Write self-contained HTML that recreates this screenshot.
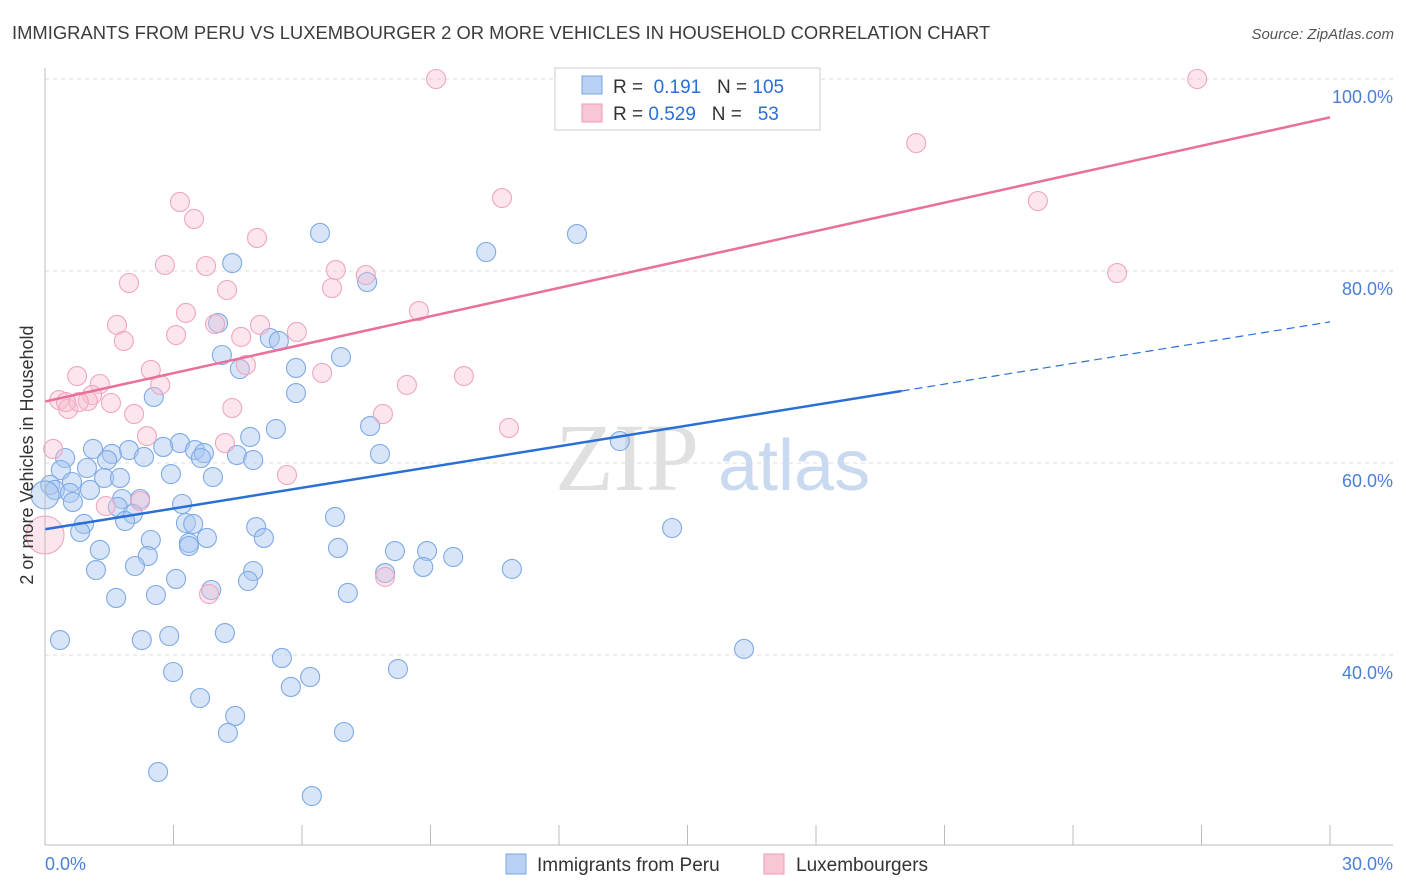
<!DOCTYPE html>
<html><head><meta charset="utf-8"><style>
body{margin:0;background:#fff;font-family:"Liberation Sans",sans-serif;}
</style></head><body>
<svg id="c" width="1406" height="892" xmlns="http://www.w3.org/2000/svg" style="display:block">
<text x="12" y="39" font-size="18.4" fill="#3c3c3c">IMMIGRANTS FROM PERU VS LUXEMBOURGER 2 OR MORE VEHICLES IN HOUSEHOLD CORRELATION CHART</text>
<text x="1394" y="39" font-size="15" fill="#555" font-style="italic" text-anchor="end">Source: ZipAtlas.com</text>
<g id="grid"></g>
<g><text x="555" y="490" font-family="Liberation Serif" font-size="96" fill="#e0e0e0">ZIP</text><text x="718" y="490" font-size="72" fill="#c9daf0">atlas</text></g>
<g id="pts"></g>
<g id="lines"></g>
<line x1="45" y1="68" x2="45" y2="845" stroke="#bbb"/>
<line x1="45" y1="845" x2="1393" y2="845" stroke="#bbb"/>
<g id="ticks"></g>
<text x="45" y="870" font-size="18" fill="#4a7fd6">0.0%</text>
<text x="1393" y="870" font-size="18" fill="#4a7fd6" text-anchor="end">30.0%</text>
<text transform="translate(33,455) rotate(-90)" font-size="18" fill="#333" text-anchor="middle">2 or more Vehicles in Household</text>
<g>
<rect x="555" y="68" width="265" height="62" fill="#fff" stroke="#ccc"/>
<rect x="582" y="76" width="20" height="18" fill="#b8d0f3" stroke="#7aa6e3"/>
<rect x="582" y="104" width="20" height="18" fill="#f9c6d5" stroke="#ee9ab5"/>
<text x="613" y="93" font-size="19" fill="#333">R = <tspan fill="#2a6fd6">&#160;0.191</tspan>&#160;&#160;&#160;N = <tspan fill="#2a6fd6">105</tspan></text>
<text x="613" y="120" font-size="19" fill="#333">R = <tspan fill="#2a6fd6">0.529</tspan>&#160;&#160;&#160;N = <tspan fill="#2a6fd6">&#160;&#160;53</tspan></text>
</g>
<g>
<rect x="506" y="854" width="20" height="20" fill="#b8d0f3" stroke="#7aa6e3"/>
<text x="537" y="871" font-size="19" fill="#333">Immigrants from Peru</text>
<rect x="764" y="854" width="20" height="20" fill="#f9c6d5" stroke="#ee9ab5"/>
<text x="796" y="871" font-size="19" fill="#333">Luxembourgers</text>
</g>
</svg>
<script>
const yTicks=[40,60,80,100];
const xTickCount=10;
const blueX=[12.33,6.42,12.42,10.30,4.37,7.52,4.04,5.25,5.46,4.13,6.91,4.55,5.86,5.86,2.54,5.39,7.59,13.42,4.79,3.15,2.76,3.50,1.12,1.96,1.56,2.31,3.71,3.64,4.48,4.86,7.82,0.47,0.37,0.98,1.45,1.38,1.75,2.94,3.92,0.63,0.12,0.23,0.58,1.05,0,0.65,1.80,2.22,3.20,1.70,2.05,1.87,3.29,3.46,0.91,0.82,4.93,6.77,14.64,2.47,3.78,5.11,3.36,3.36,1.28,2.40,6.84,8.17,8.92,9.53,2.10,1.19,4.86,7.94,8.83,10.90,3.06,4.74,3.88,2.59,1.66,7.07,0.35,2.26,2.90,4.20,16.32,5.53,2.99,8.24,6.19,5.74,3.62,4.44,4.27,6.98,2.64,6.23];
const blueY=[100,83.96,83.85,81.98,80.83,78.85,74.58,73.02,72.71,71.25,71.04,69.79,69.90,67.29,66.88,63.54,63.85,62.29,62.71,62.08,61.67,61.35,61.46,61.35,60.94,60.63,61.04,60.52,60.83,60.31,60.94,60.52,59.27,59.48,60.31,58.44,58.44,58.85,58.54,58.02,57.71,57.19,56.88,57.19,56.67,55.94,56.25,56.25,55.73,55.42,54.69,53.96,53.75,53.65,53.65,52.81,53.33,54.38,53.23,51.98,52.19,52.19,51.67,51.35,50.94,50.31,51.15,50.83,50.83,50.21,49.27,48.85,48.75,48.54,49.17,48.96,47.92,47.71,46.77,46.25,45.94,46.46,41.56,41.56,41.98,42.29,40.63,39.69,38.23,38.54,37.71,36.67,35.52,33.65,31.88,31.98,27.81,25.31];
const pinkX=[9.13,26.90,20.34,10.67,3.15,3.48,23.18,4.95,2.80,3.76,1.96,6.79,7.49,4.25,6.70,25.03,8.73,3.29,1.68,5.02,3.97,3.06,5.88,1.84,4.58,2.47,4.69,6.47,9.78,0.75,8.45,2.69,1.28,1.10,0.33,1.00,0.54,1.54,4.37,2.08,7.89,10.83,2.38,4.20,0.19,5.65,1.42,2.22,7.94,3.83,0,0.79,0.49];
const pinkY=[100,100,93.33,87.60,87.19,85.42,87.29,83.44,80.63,80.52,78.75,80.10,79.58,78.02,78.23,79.79,75.83,75.63,74.38,74.38,74.48,73.33,73.65,72.71,73.13,69.69,70.21,69.38,69.06,69.06,68.13,68.13,68.23,67.08,66.56,66.46,65.63,66.25,65.73,65.10,65.10,63.65,62.81,62.08,61.46,58.75,55.52,56.04,48.13,46.35,52.5,66.35,66.35];
const blueTrend=[53.1,74.7];
const pinkTrend=[66.4,96.0];
const blueSolidEnd=20;
const NS='http://www.w3.org/2000/svg';
const sx=v=>45+v/30*1285;
const sy=v=>79+(100-v)*9.6;
function mk(tag,attrs,parent){const e=document.createElementNS(NS,tag);for(const k in attrs)e.setAttribute(k,attrs[k]);parent.appendChild(e);return e;}
const grid=document.getElementById('grid');
yTicks.forEach(t=>{
 const l=mk('line',{x1:45,x2:1393,y1:sy(t),y2:sy(t),stroke:'#ddd','stroke-dasharray':'4,4'},grid);
 
 
 const tx=mk('text',{x:1393,y:sy(t)+24,'font-size':18,fill:'#4a7fd6','text-anchor':'end'},grid);
 tx.textContent=t.toFixed(1)+'%';
 
 
});
const ticks=document.getElementById('ticks');
for(let i=1;i<=xTickCount;i++){
 const v=i*30/xTickCount;
 const l=mk('line',{x1:sx(v),x2:sx(v),y1:825,y2:845,stroke:'#bbb'},ticks);
 
 
}
const pts=document.getElementById('pts');
blueX.forEach((x,i)=>{
 const big=(x===0);
 const c=mk('circle',{cx:sx(x),cy:sy(blueY[i]),r:big?14:9.5,fill:'rgba(168,198,240,0.45)',stroke:'#7eaae6','stroke-width':1.1},pts);
 
 
});
pinkX.forEach((x,i)=>{
 const big=(x===0);
 const c=mk('circle',{cx:sx(x),cy:sy(pinkY[i]),r:big?19:9.5,fill:'rgba(248,190,208,0.4)',stroke:'#f0a6bf','stroke-width':1.1},pts);
 
 
});
const lines=document.getElementById('lines');
const by=x=>blueTrend[0]+(blueTrend[1]-blueTrend[0])*x/30;
const b1=mk('line',{x1:sx(0),y1:sy(by(0)),x2:sx(blueSolidEnd),y2:sy(by(blueSolidEnd)),stroke:'#2a6fd6','stroke-width':2.5},lines);


const b2=mk('line',{x1:sx(blueSolidEnd),y1:sy(by(blueSolidEnd)),x2:sx(30),y2:sy(by(30)),stroke:'#2a6fd6','stroke-width':1.2,'stroke-dasharray':'8,5'},lines);


const p1=mk('line',{x1:sx(0),y1:sy(pinkTrend[0]),x2:sx(30),y2:sy(pinkTrend[1]),stroke:'#e8709a','stroke-width':2.5},lines);


</script>
</body></html>
